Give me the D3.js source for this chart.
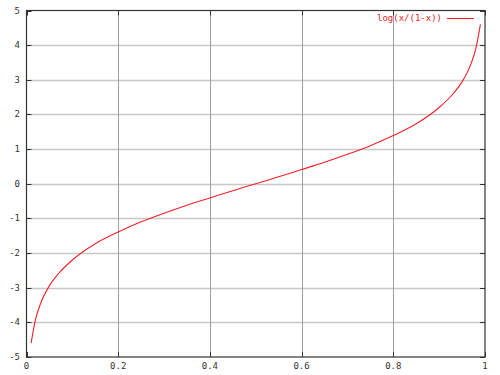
<!DOCTYPE html>
<html>
<head>
<meta charset="utf-8">
<script src="https://cdn.jsdelivr.net/npm/d3@7"></script>
<style>
  body { margin: 0; background: #fff; }
  svg text { font-family: "DejaVu Sans Mono", monospace; font-size: 9px; }
</style>
</head>
<body>
<div id="chart"></div>
<script>
// Values
var xValues = [0.01, 0.02, 0.03, 0.05, 0.07, 0.1, 0.15, 0.2, 0.25, 0.3, 0.35, 0.4, 0.45, 0.5,
               0.55, 0.6, 0.65, 0.7, 0.75, 0.8, 0.85, 0.9, 0.93, 0.95, 0.97, 0.98, 0.99];
var yValues = [-4.6, -3.9, -3.48, -2.94, -2.59, -2.2, -1.73, -1.39, -1.1, -0.85, -0.62, -0.41, -0.2, 0,
               0.2, 0.41, 0.62, 0.85, 1.1, 1.39, 1.73, 2.2, 2.59, 2.94, 3.48, 3.9, 4.6];
var xTicks = [0, 0.2, 0.4, 0.6, 0.8, 1];
var xTickLabels = ["0", "0.2", "0.4", "0.6", "0.8", "1"];
var yTicks = [-5, -4, -3, -2, -1, 0, 1, 2, 3, 4, 5];
var seriesName = "log(x/(1-x))";

var width = 500, height = 375;
var plotLeft = 26.5, plotRight = 485, plotTop = 10.5, plotBottom = 357;

var xScale = d3.scaleLinear().domain([0, 1]).range([plotLeft, plotRight]);
var yScale = d3.scaleLinear().domain([-5, 5]).range([plotBottom, plotTop]);

var svg = d3.select("#chart").append("svg")
  .attr("width", width)
  .attr("height", height);

// grid
svg.selectAll("line.hgrid")
  .data(yTicks.slice(1, -1))
  .enter().append("line")
  .attr("x1", plotLeft).attr("x2", plotRight)
  .attr("y1", function(d) { return Math.round(yScale(d)) + 0.5; })
  .attr("y2", function(d) { return Math.round(yScale(d)) + 0.5; })
  .attr("stroke", "#c8c8c8")
  .attr("stroke-width", 1.3);

svg.selectAll("line.vgrid")
  .data(xTicks.slice(1, -1))
  .enter().append("line")
  .attr("y1", plotTop).attr("y2", plotBottom)
  .attr("x1", function(d) { return Math.round(xScale(d)) + 0.5; })
  .attr("x2", function(d) { return Math.round(xScale(d)) + 0.5; })
  .attr("stroke", "#a0a0a0")
  .attr("stroke-width", 1);

// inward ticks on all sides
var tickLen = 5;
yTicks.forEach(function(d) {
  var y = Math.round(yScale(d)) + 0.5;
  svg.append("line").attr("x1", plotLeft).attr("x2", plotLeft + tickLen).attr("y1", y).attr("y2", y).attr("stroke", "#333");
  svg.append("line").attr("x1", plotRight - tickLen).attr("x2", plotRight).attr("y1", y).attr("y2", y).attr("stroke", "#333");
});
xTicks.forEach(function(d) {
  var x = Math.round(xScale(d)) + 0.5;
  svg.append("line").attr("x1", x).attr("x2", x).attr("y1", plotBottom).attr("y2", plotBottom - tickLen).attr("stroke", "#333");
  svg.append("line").attr("x1", x).attr("x2", x).attr("y1", plotTop).attr("y2", plotTop + tickLen).attr("stroke", "#333");
});

// frame
svg.append("rect")
  .attr("x", plotLeft).attr("y", plotTop)
  .attr("width", plotRight - plotLeft).attr("height", plotBottom - plotTop)
  .attr("fill", "none")
  .attr("stroke", "#333")
  .attr("stroke-width", 1.2);

// tick labels
svg.selectAll("text.ylab")
  .data(yTicks)
  .enter().append("text")
  .attr("x", 20)
  .attr("y", function(d) { return yScale(d) + 3; })
  .attr("text-anchor", "end")
  .attr("fill", "#333")
  .text(function(d) { return d; });

svg.selectAll("text.xlab")
  .data(xTicks)
  .enter().append("text")
  .attr("x", function(d) { return xScale(d); })
  .attr("y", 369)
  .attr("text-anchor", "middle")
  .attr("fill", "#333")
  .text(function(d, i) { return xTickLabels[i]; });

// curve
var points = xValues.map(function(x, i) { return [x, yValues[i]]; });
var line = d3.line()
  .x(function(d) { return xScale(d[0]); })
  .y(function(d) { return yScale(d[1]); })
  .curve(d3.curveMonotoneX);

svg.append("path")
  .datum(points)
  .attr("d", line)
  .attr("fill", "none")
  .attr("stroke", "#f0202a")
  .attr("stroke-width", 1.1);

// legend
svg.append("text")
  .attr("x", 442)
  .attr("y", 21)
  .attr("text-anchor", "end")
  .attr("fill", "#f0202a")
  .text(seriesName);
svg.append("line")
  .attr("x1", 447).attr("x2", 474)
  .attr("y1", 18.5).attr("y2", 18.5)
  .attr("stroke", "#f0202a")
  .attr("stroke-width", 1.1);
</script>
</body>
</html>
